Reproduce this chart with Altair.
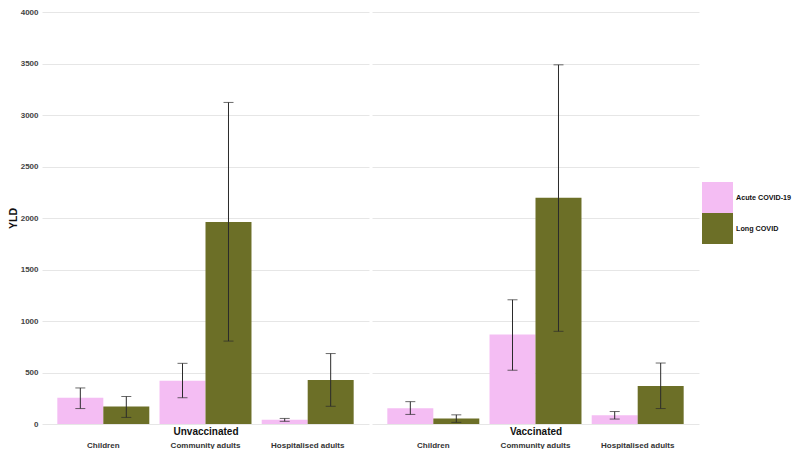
import altair as alt
import pandas as pd

groups = ["Children", "Community adults", "Hospitalised adults"]
statuses = ["Unvaccinated", "Vaccinated"]
measures = ["Acute COVID-19", "Long COVID"]

unvax_acute = [255, 420, 41]
unvax_acute_lo = [150, 255, 26]
unvax_acute_hi = [350, 589, 54]
unvax_long = [169, 1962, 427]
unvax_long_lo = [64, 805, 172]
unvax_long_hi = [267, 3122, 684]

vax_acute = [153, 869, 86]
vax_acute_lo = [93, 522, 48]
vax_acute_hi = [217, 1206, 121]
vax_long = [54, 2196, 369]
vax_long_lo = [16, 900, 150]
vax_long_hi = [89, 3487, 592]

colors = ["#F4BDF3", "#6C6F27"]

series = {
    ("Unvaccinated", "Acute COVID-19"): (unvax_acute, unvax_acute_lo, unvax_acute_hi),
    ("Unvaccinated", "Long COVID"): (unvax_long, unvax_long_lo, unvax_long_hi),
    ("Vaccinated", "Acute COVID-19"): (vax_acute, vax_acute_lo, vax_acute_hi),
    ("Vaccinated", "Long COVID"): (vax_long, vax_long_lo, vax_long_hi),
}
rows = []
for (st, ms), (v, lo, hi) in series.items():
    for g, a, b, c in zip(groups, v, lo, hi):
        rows.append({"status": st, "measure": ms, "group": g, "value": a, "lo": b, "hi": c})
df = pd.DataFrame(rows)

FONT = "Liberation Sans"
ticks250 = list(range(0, 4001, 250))


def panel(status, first):
    base = alt.Chart(df).transform_filter(alt.datum.status == status)
    x = alt.X(
        "group:N",
        sort=groups,
        scale=alt.Scale(domain=groups, paddingInner=0.1, paddingOuter=0.15),
        axis=alt.Axis(
            title=status, titleFont=FONT, titleFontSize=10, titleFontWeight="bold",
            titleColor="#111", titleY=7, titleBaseline="middle",
            labelFont=FONT, labelFontSize=8, labelFontWeight="bold", labelColor="#333",
            labelPadding=17, labelAngle=0, ticks=False, tickSize=0, domain=False, grid=False,
        ),
    )
    xo = alt.XOffset("measure:N", sort=measures,
                     scale=alt.Scale(domain=measures, paddingInner=0, paddingOuter=0))
    if first:
        yaxis = alt.Axis(
            title="YLD", titleFont=FONT, titleFontSize=10.5, titleFontWeight="bold",
            titleColor="#111", titlePadding=2,
            values=ticks250, labelExpr="datum.value % 500 === 0 ? datum.label : ''",
            format="d", labelFont=FONT, labelFontSize=8, labelFontWeight="bold",
            labelColor="#444", labelPadding=4, ticks=False, domain=False,
            gridColor="#E6E6E6",
            gridWidth={"condition": {"test": "datum.value % 500 === 0", "value": 1}, "value": 0.6},
        )
    else:
        yaxis = alt.Axis(
            title=None, values=ticks250, labels=False, ticks=False, domain=False,
            gridColor="#E6E6E6",
            gridWidth={"condition": {"test": "datum.value % 500 === 0", "value": 1}, "value": 0.6},
        )
    yscale = alt.Scale(domain=[0, 4000], nice=False)
    ttl = "YLD" if first else None
    bars = base.mark_bar().encode(
        x=x, xOffset=xo,
        y=alt.Y("value:Q", scale=yscale, axis=yaxis, title=ttl),
        color=alt.Color("measure:N", scale=alt.Scale(domain=measures, range=colors),
                        legend=alt.Legend(title=None)),
    )
    rules = base.mark_rule(color="#2b2b2b", strokeWidth=1).encode(
        x=x, xOffset=xo, y=alt.Y("lo:Q", scale=yscale, title=ttl), y2="hi:Q"
    )
    cap_hi = base.mark_tick(color="#2b2b2b", size=10, thickness=1, orient="horizontal").encode(
        x=x, xOffset=xo, y=alt.Y("hi:Q", scale=yscale, title=ttl)
    )
    cap_lo = base.mark_tick(color="#2b2b2b", size=10, thickness=1, orient="horizontal").encode(
        x=x, xOffset=xo, y=alt.Y("lo:Q", scale=yscale, title=ttl)
    )
    return alt.layer(bars, rules, cap_hi, cap_lo).properties(width=327, height=412)


chart = alt.hconcat(panel("Unvaccinated", True), panel("Vaccinated", False), spacing=3).properties(
    padding={"left": 0, "top": 0, "right": 0, "bottom": 0}
).configure_view(stroke=None).configure_legend(
    orient="none", legendX=660, legendY=170,
    symbolType="square", symbolSize=961, symbolStrokeWidth=0, symbolOpacity=1,
    rowPadding=0, labelFont=FONT, labelFontSize=7.2, labelFontWeight="bold",
    labelColor="#111", labelOffset=3,
)

chart.save("out.html", embed_options={"renderer": "svg", "actions": False})
